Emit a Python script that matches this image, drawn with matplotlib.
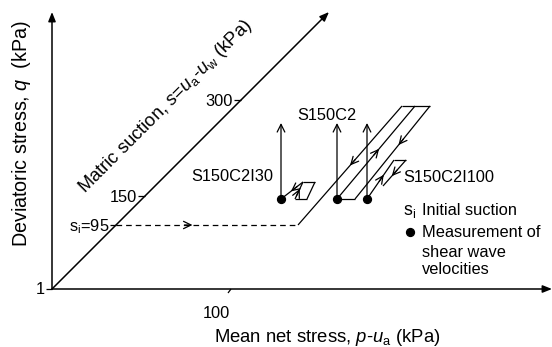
import matplotlib
matplotlib.use('Agg')
import matplotlib.pyplot as plt
import numpy as np

plt.rcParams['font.family'] = ['Liberation Sans', 'DejaVu Sans']
plt.rcParams['mathtext.fontset'] = 'custom'
plt.rcParams['mathtext.rm'] = 'Liberation Sans'
plt.rcParams['mathtext.it'] = 'Liberation Sans:italic'
plt.rcParams['mathtext.bf'] = 'Liberation Sans:bold'

# ---------------- schematic data (sketch frame, y downwards) ----------------
origin = (52, 289)
q_axis_end = (52, 12)
p_axis_end = (552, 289)
s_axis_end = (329, 12)

suction_tick_labels = ['300', '150']
suction_tick_pts = [(241, 100), (145, 196)]
si_label = r'$\mathrm{s}_\mathrm{i}$=95'
si_pt = (116, 225)
p_tick_label = '100'
p_tick_pt = (231, 289)
q_tick_label = '1'

loading_path = [(116, 225), (298, 225)]

s150c2_lines = [
    [(298, 225), (402, 106)],
    [(402, 106), (430, 106)],
    [(337, 199), (415, 106)],
    [(430, 106), (355, 199)],
    [(337, 199), (355, 199)],
]
# (segment index, fraction along segment, direction +1 forward / -1 backward)
s150c2_arrows = [(0, 0.50, -1), (2, 0.54, +1), (3, 0.42, +1)]

i30_lines = [
    [(281, 199), (303, 182)],
    [(303, 182), (315, 182)],
    [(315, 182), (307, 199)],
    [(307, 199), (295, 199)],
    [(295, 199), (303, 182)],
]
i30_arrows = [(0, 0.45, -1), (4, 0.60, +1)]

i100_lines = [
    [(367, 199), (394, 160)],
    [(394, 160), (406, 160)],
    [(406, 160), (383, 186)],
]
i100_arrows = [(0, 0.62, +1), (2, 0.62, +1)]

shear_x = [281, 337, 367]
shear_y0 = 199
shear_y1 = 123

test_labels = ['S150C2', 'S150C2I30', 'S150C2I100']
test_label_pos = [(327, 120), (232, 181), (403, 182)]

legend_lines = ['Initial suction', 'Measurement of', 'shear wave', 'velocities']

# ---------------- drawing ----------------
W, H = 552, 347
fig = plt.figure(figsize=(W / 100, H / 100), dpi=100)
ax = fig.add_axes([0, 0, 1, 1])
ax.set_xlim(0, W)
ax.set_ylim(H, 0)
ax.axis('off')

LW_AX = 1.1
LW = 0.9
FS = 11.8


def seg(p, q, **kw):
    ax.plot([p[0], q[0]], [p[1], q[1]], color='black', solid_capstyle='butt', **kw)


def arrow_head(p, q, frac, direction, ms=12):
    p = np.array(p, float)
    q = np.array(q, float)
    d = (q - p) / np.linalg.norm(q - p) * direction
    tip = p + (q - p) * frac
    ax.annotate('', xy=tuple(tip), xytext=tuple(tip - d * 8),
                arrowprops=dict(arrowstyle='->,head_length=0.45,head_width=0.22',
                                lw=LW, color='black', shrinkA=0, shrinkB=0,
                                mutation_scale=ms))


def axis_arrow(p, q):
    ax.annotate('', xy=q, xytext=p,
                arrowprops=dict(arrowstyle='-|>,head_length=0.5,head_width=0.2',
                                lw=LW_AX, color='black', shrinkA=0, shrinkB=0,
                                mutation_scale=11))


# axes
axis_arrow(origin, q_axis_end)
axis_arrow(origin, p_axis_end)
axis_arrow(origin, s_axis_end)

# suction ticks
for lab, pt in zip(suction_tick_labels, suction_tick_pts):
    seg((pt[0] - 7, pt[1]), pt, lw=LW)
    ax.text(pt[0] - 8, pt[1] + 6, lab, ha='right', va='baseline', fontsize=FS)
seg((si_pt[0] - 6, si_pt[1]), si_pt, lw=LW)
ax.text(si_pt[0] - 7, si_pt[1] + 6, si_label, ha='right', va='baseline', fontsize=FS)

# q tick '1'
seg((origin[0] - 6, origin[1]), origin, lw=LW)
ax.text(origin[0] - 7, origin[1] + 5, q_tick_label, ha='right', va='baseline', fontsize=FS)

# p tick '100'
seg((p_tick_pt[0] - 3, p_tick_pt[1] + 4), p_tick_pt, lw=LW)
ax.text(p_tick_pt[0] - 15, p_tick_pt[1] + 29, p_tick_label, ha='center', va='baseline', fontsize=FS)

# loading path (dashed)
ax.plot([loading_path[0][0], loading_path[1][0]], [loading_path[0][1], loading_path[1][1]],
        color='black', lw=LW, dashes=(4.5, 3.2))
arrow_head(loading_path[0], loading_path[1], 0.42, +1)

# stress paths
for lines, arrows in [(s150c2_lines, s150c2_arrows), (i30_lines, i30_arrows), (i100_lines, i100_arrows)]:
    for l in lines:
        seg(l[0], l[1], lw=LW)
    for idx, frac, dr in arrows:
        arrow_head(lines[idx][0], lines[idx][1], frac, dr)

# shearing arrows and measurement points
for x in shear_x:
    ax.annotate('', xy=(x, shear_y1), xytext=(x, shear_y0),
                arrowprops=dict(arrowstyle='->,head_length=0.5,head_width=0.25',
                                lw=LW, color='black', shrinkA=0, shrinkB=0,
                                mutation_scale=11))
ax.scatter(shear_x, [shear_y0] * len(shear_x), s=32, color='black', zorder=5)

# test labels
for lab, pos in zip(test_labels, test_label_pos):
    ha = 'left' if lab == 'S150C2I100' else 'center'
    ax.text(pos[0], pos[1], lab, ha=ha, va='baseline', fontsize=FS)

# legend
ax.text(403, 215, r'$\mathrm{s}_\mathrm{i}$', ha='left', va='baseline', fontsize=FS + 1)
ax.text(422, 215, legend_lines[0], ha='left', va='baseline', fontsize=FS)
ax.scatter([410], [232], s=32, color='black')
ax.text(422, 237, legend_lines[1], ha='left', va='baseline', fontsize=FS)
ax.text(422, 257, legend_lines[2], ha='left', va='baseline', fontsize=FS)
ax.text(422, 274, legend_lines[3], ha='left', va='baseline', fontsize=FS)

# axis titles
ax.text(327, 342, r'Mean net stress, $\mathit{p}$-$\mathit{u}_\mathrm{a}$ (kPa)',
        ha='center', va='baseline', fontsize=13.3)
ax.text(22, 134, r'Deviatoric stress, $\mathit{q}$  (kPa)', rotation=90,
        ha='center', va='center', fontsize=14.2)
ax.text(166, 107, r'Matric suction, $\mathit{s}$=$\mathit{u}_\mathrm{a}$-$\mathit{u}_\mathrm{w}$ (kPa)',
        rotation=45, rotation_mode='anchor', ha='center', va='center', fontsize=13.2)

fig.savefig('out.png', dpi=100)
